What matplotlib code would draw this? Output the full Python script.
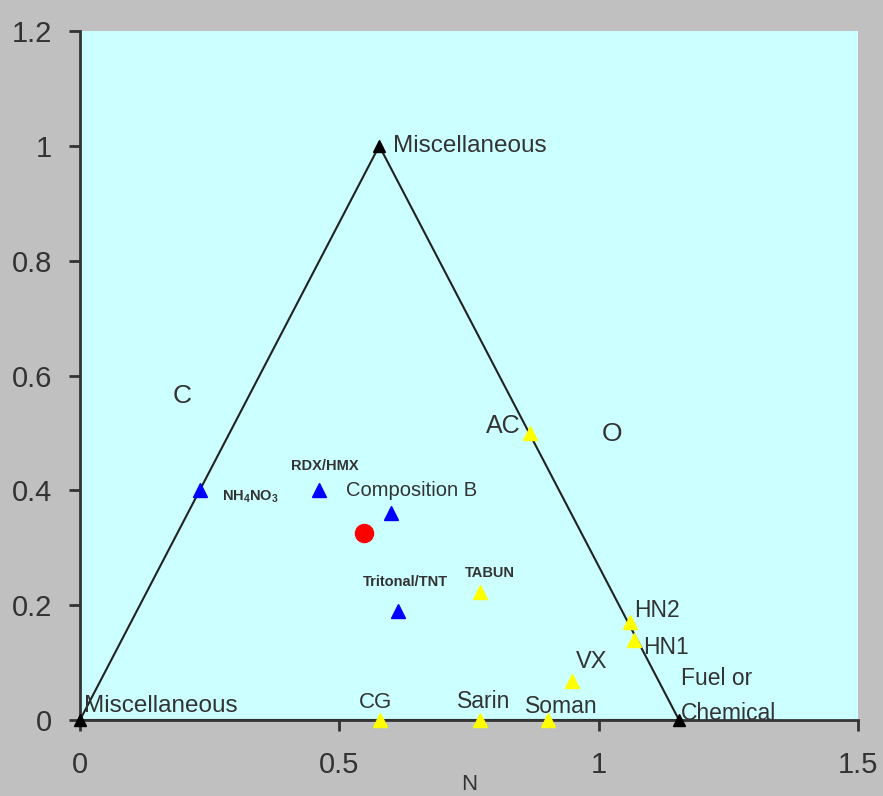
import matplotlib.pyplot as plt
import numpy as np

plt.rcParams['font.family'] = ['Liberation Sans', 'DejaVu Sans']
plt.rcParams['mathtext.fontset'] = 'custom'
plt.rcParams['mathtext.rm'] = 'Liberation Sans:bold'
plt.rcParams['mathtext.bf'] = 'Liberation Sans:bold'

# triangle vertices
tri_x = [0, 0.577, 1.155, 0]
tri_y = [0, 1.0, 0, 0]

# explosives (blue)
blue_names = ['NH4NO3', 'RDX/HMX', 'Composition B', 'Tritonal/TNT']
blue_x = [0.231, 0.461, 0.600, 0.613]
blue_y = [0.40, 0.40, 0.36, 0.19]

# chemical agents (yellow)
yel_names = ['AC', 'TABUN', 'HN2', 'HN1', 'VX', 'CG', 'Sarin', 'Soman']
yel_x = [0.868, 0.771, 1.060, 1.068, 0.949, 0.578, 0.771, 0.902]
yel_y = [0.50, 0.223, 0.171, 0.139, 0.068, 0.0, 0.0, 0.0]

# unknown sample (red)
red_x = [0.548]
red_y = [0.326]

fig = plt.figure(figsize=(8.83, 7.96), dpi=100, facecolor='#c0c0c0')
ax = fig.add_axes([0.0906, 0.0955, 0.881, 0.8655])
ax.set_facecolor('#ccffff')

ax.plot(tri_x, tri_y, color='#222222', lw=1.5, zorder=2)
ax.plot(tri_x[:3], tri_y[:3], '^', color='black', ms=9, ls='none', clip_on=False, zorder=3)
ax.plot(blue_x, blue_y, '^', color='#0000ff', ms=10, ls='none', clip_on=False, zorder=3)
ax.plot(yel_x, yel_y, '^', color='#ffff00', ms=10, ls='none', clip_on=False, zorder=3)
ax.plot(red_x, red_y, 'o', color='#ff0000', ms=13, ls='none', clip_on=False, zorder=3)

tc = '#333333'
big = 16.5
sm = 10.5
ax.text(0.603, 0.999, 'Miscellaneous', fontsize=17.5, color=tc, va='center')
ax.text(0.008, 0.024, 'Miscellaneous', fontsize=17.5, color=tc, va='center')
ax.text(0.197, 0.564, 'C', fontsize=19, color=tc, ha='center', va='center')
ax.text(1.026, 0.498, 'O', fontsize=19, color=tc, ha='center', va='center')
ax.text(0.783, 0.512, 'AC', fontsize=18, color=tc, va='center')
ax.text(0.512, 0.4, 'Composition B', fontsize=14.5, color=tc, va='center')
ax.text(0.473, 0.442, 'RDX/HMX', fontsize=sm, fontweight='bold', color=tc, ha='center', va='center')
ax.text(0.274, 0.388, r'$\mathbf{NH_4NO_3}$', fontsize=sm, color=tc, va='center')
ax.text(0.627, 0.240, 'Tritonal/TNT', fontsize=sm, fontweight='bold', color=tc, ha='center', va='center')
ax.text(0.790, 0.256, 'TABUN', fontsize=sm, fontweight='bold', color=tc, ha='center', va='center')
ax.text(1.068, 0.190, 'HN2', fontsize=big, color=tc, va='center')
ax.text(1.085, 0.127, 'HN1', fontsize=big, color=tc, va='center')
ax.text(0.956, 0.101, 'VX', fontsize=17, color=tc, va='center')
ax.text(1.158, 0.072, 'Fuel or', fontsize=big, color=tc, va='center')
ax.text(1.158, 0.012, 'Chemical', fontsize=big, color=tc, va='center')
ax.text(0.779, 0.033, 'Sarin', fontsize=big, color=tc, ha='center', va='center')
ax.text(0.929, 0.024, 'Soman', fontsize=big, color=tc, ha='center', va='center')
ax.text(0.569, 0.030, 'CG', fontsize=16, color=tc, ha='center', va='center')

ax.set_xlim(0, 1.5)
ax.set_ylim(0, 1.2)
ax.set_xticks([0, 0.5, 1, 1.5])
ax.set_xticklabels(['0', '0.5', '1', '1.5'])
ax.set_yticks([0, 0.2, 0.4, 0.6, 0.8, 1.0, 1.2])
ax.set_yticklabels(['0', '0.2', '0.4', '0.6', '0.8', '1', '1.2'])
ax.tick_params(axis='both', labelsize=21, colors='#333333', length=8, width=2, direction='out')
ax.tick_params(axis='x', pad=14)
ax.tick_params(axis='y', pad=12)
ax.set_xlabel('N', fontsize=16, color='#333333', labelpad=-3)

for s in ['top', 'right']:
    ax.spines[s].set_visible(False)
for s in ['left', 'bottom']:
    ax.spines[s].set_color('#333333')
    ax.spines[s].set_linewidth(2)

fig.savefig('out.png', dpi=100, facecolor=fig.get_facecolor())
